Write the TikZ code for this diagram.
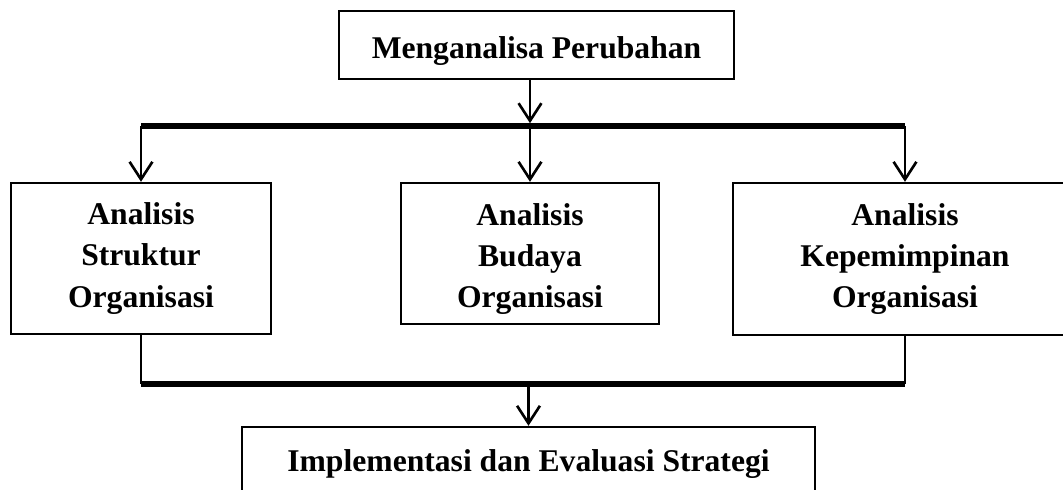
\documentclass[tikz,border=0pt]{standalone}
\usepackage{fontspec}
\setmainfont{Liberation Serif}
\usetikzlibrary{arrows.meta,calc,positioning}

\begin{document}
\begin{tikzpicture}[x=0.02cm, y=-0.02cm,
    box/.style={draw, line width=1.4pt, inner sep=0pt, align=center, font=\bfseries\fontsize{18}{21}\selectfont},
    flow/.style={line width=1.5pt, -{Straight Barb[length=10pt,width=13pt]}},
    stem/.style={line width=1.5pt},
    bus/.style={line width=3.2pt}
  ]
  \useasboundingbox (0,0) rectangle (1063,490);

  % boxes
  \node[box, minimum width=7.9cm, minimum height=1.36cm, text height=15pt, text depth=0pt] (top) at (536.5,45) {Menganalisa Perubahan};
  \node[box, minimum width=5.2cm, minimum height=3.02cm, text width=5cm] (struktur) at (141,258.5) {Analisis\\[2.5pt]Struktur\\[2.5pt]Organisasi};
  \node[box, minimum width=5.16cm, minimum height=2.82cm, text width=5cm] (budaya) at (530,253.5) {\rule{0pt}{19pt}Analisis\\[2.5pt]Budaya\\[2.5pt]Organisasi};
  \node[box, minimum width=6.88cm, minimum height=3.04cm, text width=6.6cm] (pimpin) at (905,259) {Analisis\\[2.5pt]Kepemimpinan\\[2.5pt]Organisasi};
  \node[box, minimum width=11.46cm, minimum height=1.48cm] (impl) at (528.5,464) {Implementasi dan Evaluasi Strategi};

  % bars
  \coordinate (busTop) at (0,126);
  \coordinate (busBot) at (0,384);

  \draw[bus] (struktur.north |- busTop) -- (pimpin.north |- busTop);
  \draw[flow, shorten >=1.6pt] (top.south -| budaya.north) -- (budaya.north |- busTop);
  \foreach \b in {struktur,budaya,pimpin}
    \draw[flow] (\b.north |- busTop) -- (\b.north);

  \draw[stem] (struktur.south) -- (struktur.south |- busBot);
  \draw[stem] (pimpin.south) -- (pimpin.south |- busBot);
  \draw[bus] (struktur.south |- busBot) -- (pimpin.south |- busBot);
  \draw[flow] (impl.north |- busBot) -- (impl.north);
\end{tikzpicture}
\end{document}
